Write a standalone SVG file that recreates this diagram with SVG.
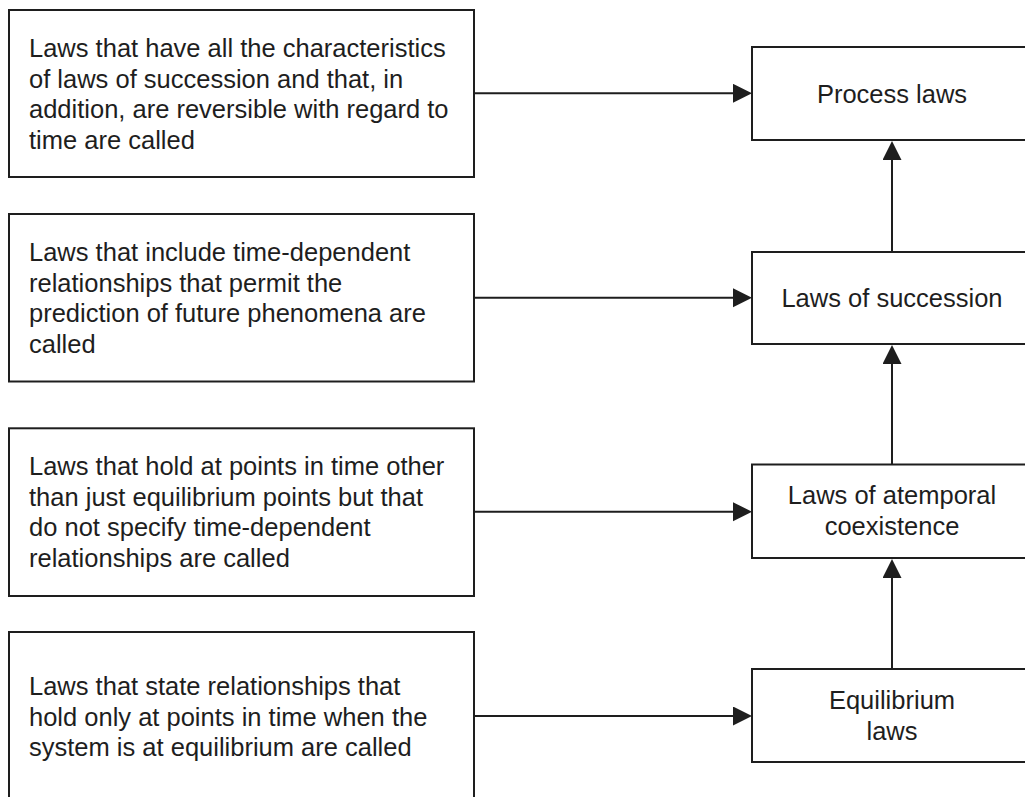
<svg xmlns="http://www.w3.org/2000/svg" width="1025" height="797" viewBox="0 0 1025 797">
  <style>
    .box { fill: #ffffff; stroke: #1e1e1e; stroke-width: 2; }
    .lbl { font-family: "Liberation Sans", Arial, Helvetica, sans-serif; font-size: 25.5px; fill: #1e1e1e; }
    .mid { text-anchor: middle; }
    .edge { fill: none; stroke: #1e1e1e; stroke-width: 2; marker-end: url(#head); }
  </style>
  <defs>
    <marker id="head" markerUnits="userSpaceOnUse" markerWidth="20" markerHeight="20" refX="0" refY="9.5" orient="auto">
      <path d="M0,0 L19,9.5 L0,19 Z" fill="#1e1e1e"/>
    </marker>
  </defs>
  <rect width="1025" height="797" fill="#ffffff"/>

  <!-- description boxes (left column) -->
  <g id="desc-process">
    <rect class="box" x="9" y="10" width="465" height="167"/>
    <text class="lbl" x="29" y="57">Laws that have all the characteristics</text>
    <text class="lbl" x="29" y="87.7">of laws of succession and that, in</text>
    <text class="lbl" x="29" y="118.4">addition, are reversible with regard to</text>
    <text class="lbl" x="29" y="149">time are called</text>
  </g>
  <g id="desc-succession">
    <rect class="box" x="9" y="214" width="465" height="167.5"/>
    <text class="lbl" x="29" y="261">Laws that include time-dependent</text>
    <text class="lbl" x="29" y="291.7">relationships that permit the</text>
    <text class="lbl" x="29" y="322.4">prediction of future phenomena are</text>
    <text class="lbl" x="29" y="353">called</text>
  </g>
  <g id="desc-coexistence">
    <rect class="box" x="9" y="428.3" width="465" height="167.7"/>
    <text class="lbl" x="29" y="475">Laws that hold at points in time other</text>
    <text class="lbl" x="29" y="505.7">than just equilibrium points but that</text>
    <text class="lbl" x="29" y="536.4">do not specify time-dependent</text>
    <text class="lbl" x="29" y="567.2">relationships are called</text>
  </g>
  <g id="desc-equilibrium">
    <rect class="box" x="9" y="632" width="465" height="180"/>
    <text class="lbl" x="29" y="695">Laws that state relationships that</text>
    <text class="lbl" x="29" y="725.7">hold only at points in time when the</text>
    <text class="lbl" x="29" y="756.4">system is at equilibrium are called</text>
  </g>

  <!-- law categories (right column) -->
  <g id="process-laws">
    <rect class="box" x="752" y="47" width="280" height="93"/>
    <text class="lbl mid" x="892" y="102.5">Process laws</text>
  </g>
  <g id="laws-of-succession">
    <rect class="box" x="752" y="252" width="280" height="92"/>
    <text class="lbl mid" x="892" y="307">Laws of succession</text>
  </g>
  <g id="laws-of-coexistence">
    <rect class="box" x="752" y="464.5" width="280" height="93.5"/>
    <text class="lbl mid" x="892" y="504">Laws of atemporal</text>
    <text class="lbl mid" x="892" y="535">coexistence</text>
  </g>
  <g id="equilibrium-laws">
    <rect class="box" x="752" y="669" width="280" height="93"/>
    <text class="lbl mid" x="892" y="709">Equilibrium</text>
    <text class="lbl mid" x="892" y="740">laws</text>
  </g>

  <!-- connectors -->
  <g id="connectors">
    <line class="edge" x1="474" y1="93.3" x2="733" y2="93.3"/>
    <line class="edge" x1="474" y1="297.7" x2="733" y2="297.7"/>
    <line class="edge" x1="474" y1="511.7" x2="733" y2="511.7"/>
    <line class="edge" x1="474" y1="716" x2="733" y2="716"/>
    <line class="edge" x1="892" y1="252" x2="892" y2="160"/>
    <line class="edge" x1="892" y1="464.5" x2="892" y2="364"/>
    <line class="edge" x1="892" y1="669" x2="892" y2="578"/>
  </g>
</svg>
